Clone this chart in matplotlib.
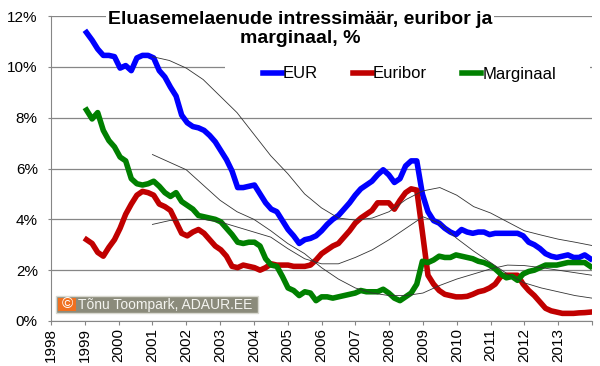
import numpy as np
import matplotlib
matplotlib.use('Agg')
import matplotlib.pyplot as plt
from matplotlib.patches import Rectangle

plt.rcParams['font.family'] = ['Liberation Sans', 'DejaVu Sans']

# Bi-monthly values, Jan 1999 .. Dec 2013 (%)
eur = [11.35, 11.05, 10.7, 10.45, 10.45, 10.4,
       9.95, 10.05, 9.85, 10.35, 10.45, 10.45,
       10.35, 9.85, 9.6, 9.2, 8.85, 8.1,
       7.8, 7.65, 7.6, 7.5, 7.3, 7.05,
       6.7, 6.35, 5.9, 5.25, 5.25, 5.3,
       5.35, 5.0, 4.65, 4.4, 4.3, 3.95,
       3.6, 3.35, 3.05, 3.2, 3.25, 3.35,
       3.55, 3.8, 4.0, 4.15, 4.4, 4.65,
       4.95, 5.2, 5.35, 5.5, 5.75, 5.95,
       5.75, 5.45, 5.6, 6.1, 6.3, 6.3,
       5.0, 4.3, 3.95, 3.85, 3.65, 3.5,
       3.4, 3.6, 3.5, 3.45, 3.5, 3.5,
       3.4, 3.45, 3.45, 3.45, 3.45, 3.45,
       3.35, 3.1, 3.0, 2.85, 2.65, 2.55,
       2.5, 2.55, 2.6, 2.5, 2.5, 2.6,
       2.45]
euribor = [3.2, 3.05, 2.7, 2.55, 2.9, 3.2,
           3.65, 4.2, 4.6, 4.95, 5.1, 5.05,
           4.95, 4.6, 4.5, 4.35, 3.9, 3.45,
           3.35, 3.5, 3.6, 3.45, 3.2, 2.95,
           2.8, 2.55, 2.15, 2.1, 2.2, 2.15,
           2.1, 2.0, 2.1, 2.25, 2.2, 2.2,
           2.2, 2.15, 2.15, 2.15, 2.2, 2.4,
           2.65, 2.8, 2.95, 3.05, 3.3, 3.55,
           3.85, 4.05, 4.2, 4.35, 4.65, 4.65,
           4.65, 4.4, 4.75, 5.05, 5.2, 5.15,
           3.5, 1.8, 1.45, 1.2, 1.05, 1.0,
           0.95, 0.95, 0.97, 1.05, 1.15, 1.2,
           1.3, 1.45, 1.75, 1.8, 1.8, 1.8,
           1.45, 1.2, 1.0, 0.75, 0.5, 0.4,
           0.35, 0.3, 0.3, 0.3, 0.32, 0.33,
           0.35]
marginaal = [8.3, 7.95, 8.2, 7.5, 7.1, 6.85,
             6.45, 6.3, 5.6, 5.4, 5.35, 5.4,
             5.5, 5.3, 5.05, 4.9, 5.05, 4.7,
             4.55, 4.4, 4.15, 4.1, 4.05, 4.0,
             3.9, 3.65, 3.4, 3.1, 3.05, 3.1,
             3.1, 2.95, 2.45, 2.2, 2.15, 1.75,
             1.3, 1.2, 1.0, 1.15, 1.1, 0.8,
             0.95, 0.95, 0.9, 0.95, 1.0, 1.05,
             1.1, 1.2, 1.15, 1.15, 1.15, 1.25,
             1.1, 0.9, 0.8, 0.95, 1.1, 1.45,
             2.35, 2.3, 2.4, 2.55, 2.5, 2.5,
             2.6, 2.55, 2.5, 2.45, 2.35, 2.3,
             2.2, 2.05, 1.85, 1.7, 1.75, 1.6,
             1.85, 1.95, 2.0, 2.1, 2.2, 2.2,
             2.2, 2.25, 2.3, 2.3, 2.3, 2.3,
             2.15]

# Thin average lines, half-yearly 2001 .. 2014 (%)
avg_years = [2001.0, 2001.5, 2002.0, 2002.5, 2003.0, 2003.5, 2004.0, 2004.5, 2005.0,
             2005.5, 2006.0, 2006.5, 2007.0, 2007.5, 2008.0, 2008.5, 2009.0, 2009.5,
             2010.0, 2010.5, 2011.0, 2011.5, 2012.0, 2012.5, 2013.0, 2013.5, 2014.0]
eur_avg = [10.4, 10.25, 9.95, 9.5, 8.85, 8.2, 7.35, 6.5, 5.8,
           5.0, 4.45, 4.05, 3.97, 4.05, 4.3, 4.78, 5.12, 5.25,
           4.95, 4.5, 4.25, 3.9, 3.55, 3.38, 3.22, 3.1, 2.97]
euribor_avg = [3.8, 3.95, 4.0, 4.0, 3.9, 3.7, 3.5, 3.3, 2.85,
               2.45, 2.25, 2.25, 2.5, 2.8, 3.2, 3.65, 4.1, 3.85,
               3.25, 2.75, 2.3, 1.85, 1.5, 1.3, 1.15, 1.0, 0.9]
marginaal_avg = [6.55, 6.25, 5.95, 5.35, 4.75, 4.3, 4.0, 3.55, 3.05,
                 2.65, 2.1, 1.65, 1.3, 1.1, 1.0, 1.0, 1.1, 1.4,
                 1.65, 1.85, 2.05, 2.2, 2.18, 2.1, 2.0, 1.9, 1.8]

years = np.linspace(1999.05, 2013.95, len(eur))
x_ticks = list(range(1998, 2015))
y_ticks = list(range(0, 13, 2))
title = 'Eluasemelaenude intressimäär, euribor ja\nmarginaal, %'

W, H = 600, 366
fig = plt.figure(figsize=(W / 100, H / 100), dpi=100)
ax = fig.add_axes([51 / W, 1 - 321 / H, (592 - 51) / W, (321 - 16) / H])

ax.plot(years, eur, color='#0000FF', lw=4.0, label='EUR', zorder=2)
ax.plot(years, euribor, color='#C00000', lw=4.0, label='Euribor', zorder=2)
ax.plot(years, marginaal, color='#008000', lw=4.0, label='Marginaal', zorder=2)
for avg in (eur_avg, euribor_avg, marginaal_avg):
    ax.plot(avg_years, avg, color='#333333', lw=0.6, zorder=3)

# white areas behind title and legend hide the gridlines
ax.add_patch(Rectangle((225 / W, 1 - 88 / H), (590 - 225) / W, 33 / H,
                       transform=fig.transFigure, fc='white', ec='none',
                       zorder=1, clip_on=False))
ax.text(300 / W, 1 - 29 / H, title, transform=fig.transFigure, ha='center',
        va='center', fontsize=14, fontweight='bold', linespacing=1.1, zorder=1,
        bbox=dict(fc='white', ec='none', pad=1))

ax.legend(loc='center left', bbox_to_anchor=(263 / W, 1 - 74 / H),
          bbox_transform=fig.transFigure, ncol=3, frameon=False, fontsize=12,
          handlelength=1.15, handletextpad=0.05, columnspacing=2.1,
          borderpad=0, borderaxespad=0)

# copyright badge
ax.add_patch(Rectangle((56 / W, 1 - 313 / H), 202 / W, 17 / H,
                       transform=fig.transFigure, fc='#8b8b7b', ec='#d8d8d0',
                       lw=1, zorder=4, clip_on=False))
ax.add_patch(Rectangle((58 / W, 1 - 311 / H), 18 / W, 13 / H,
                       transform=fig.transFigure, fc='#f07020', ec='none',
                       zorder=5, clip_on=False))
ax.text(67 / W, 1 - 304.5 / H, '©', transform=fig.transFigure, ha='center',
        va='center', fontsize=11, color='white', zorder=6)
ax.text(78 / W, 1 - 304.5 / H, 'Tõnu Toompark, ADAUR.EE', transform=fig.transFigure,
        ha='left', va='center', fontsize=10, color='#f4f4ef', zorder=6)

ax.set_xlim(1998, 2014)
ax.set_ylim(0, 12)
ax.set_xticks(x_ticks)
ax.set_xticklabels([str(y) if y < 2014 else '' for y in x_ticks], rotation=90, fontsize=11)
ax.set_yticks(y_ticks)
ax.set_yticklabels([f'{v}%' for v in y_ticks], fontsize=11)
ax.tick_params(axis='x', length=3, color='#868686', pad=2)
ax.tick_params(axis='y', length=2.5, color='#868686', pad=7)
ax.grid(axis='y', color='#868686', lw=0.9)
ax.set_axisbelow(True)
for side in ('top', 'right'):
    ax.spines[side].set_visible(False)
for side in ('left', 'bottom'):
    ax.spines[side].set_color('#868686')

fig.savefig('out.png', dpi=100)
